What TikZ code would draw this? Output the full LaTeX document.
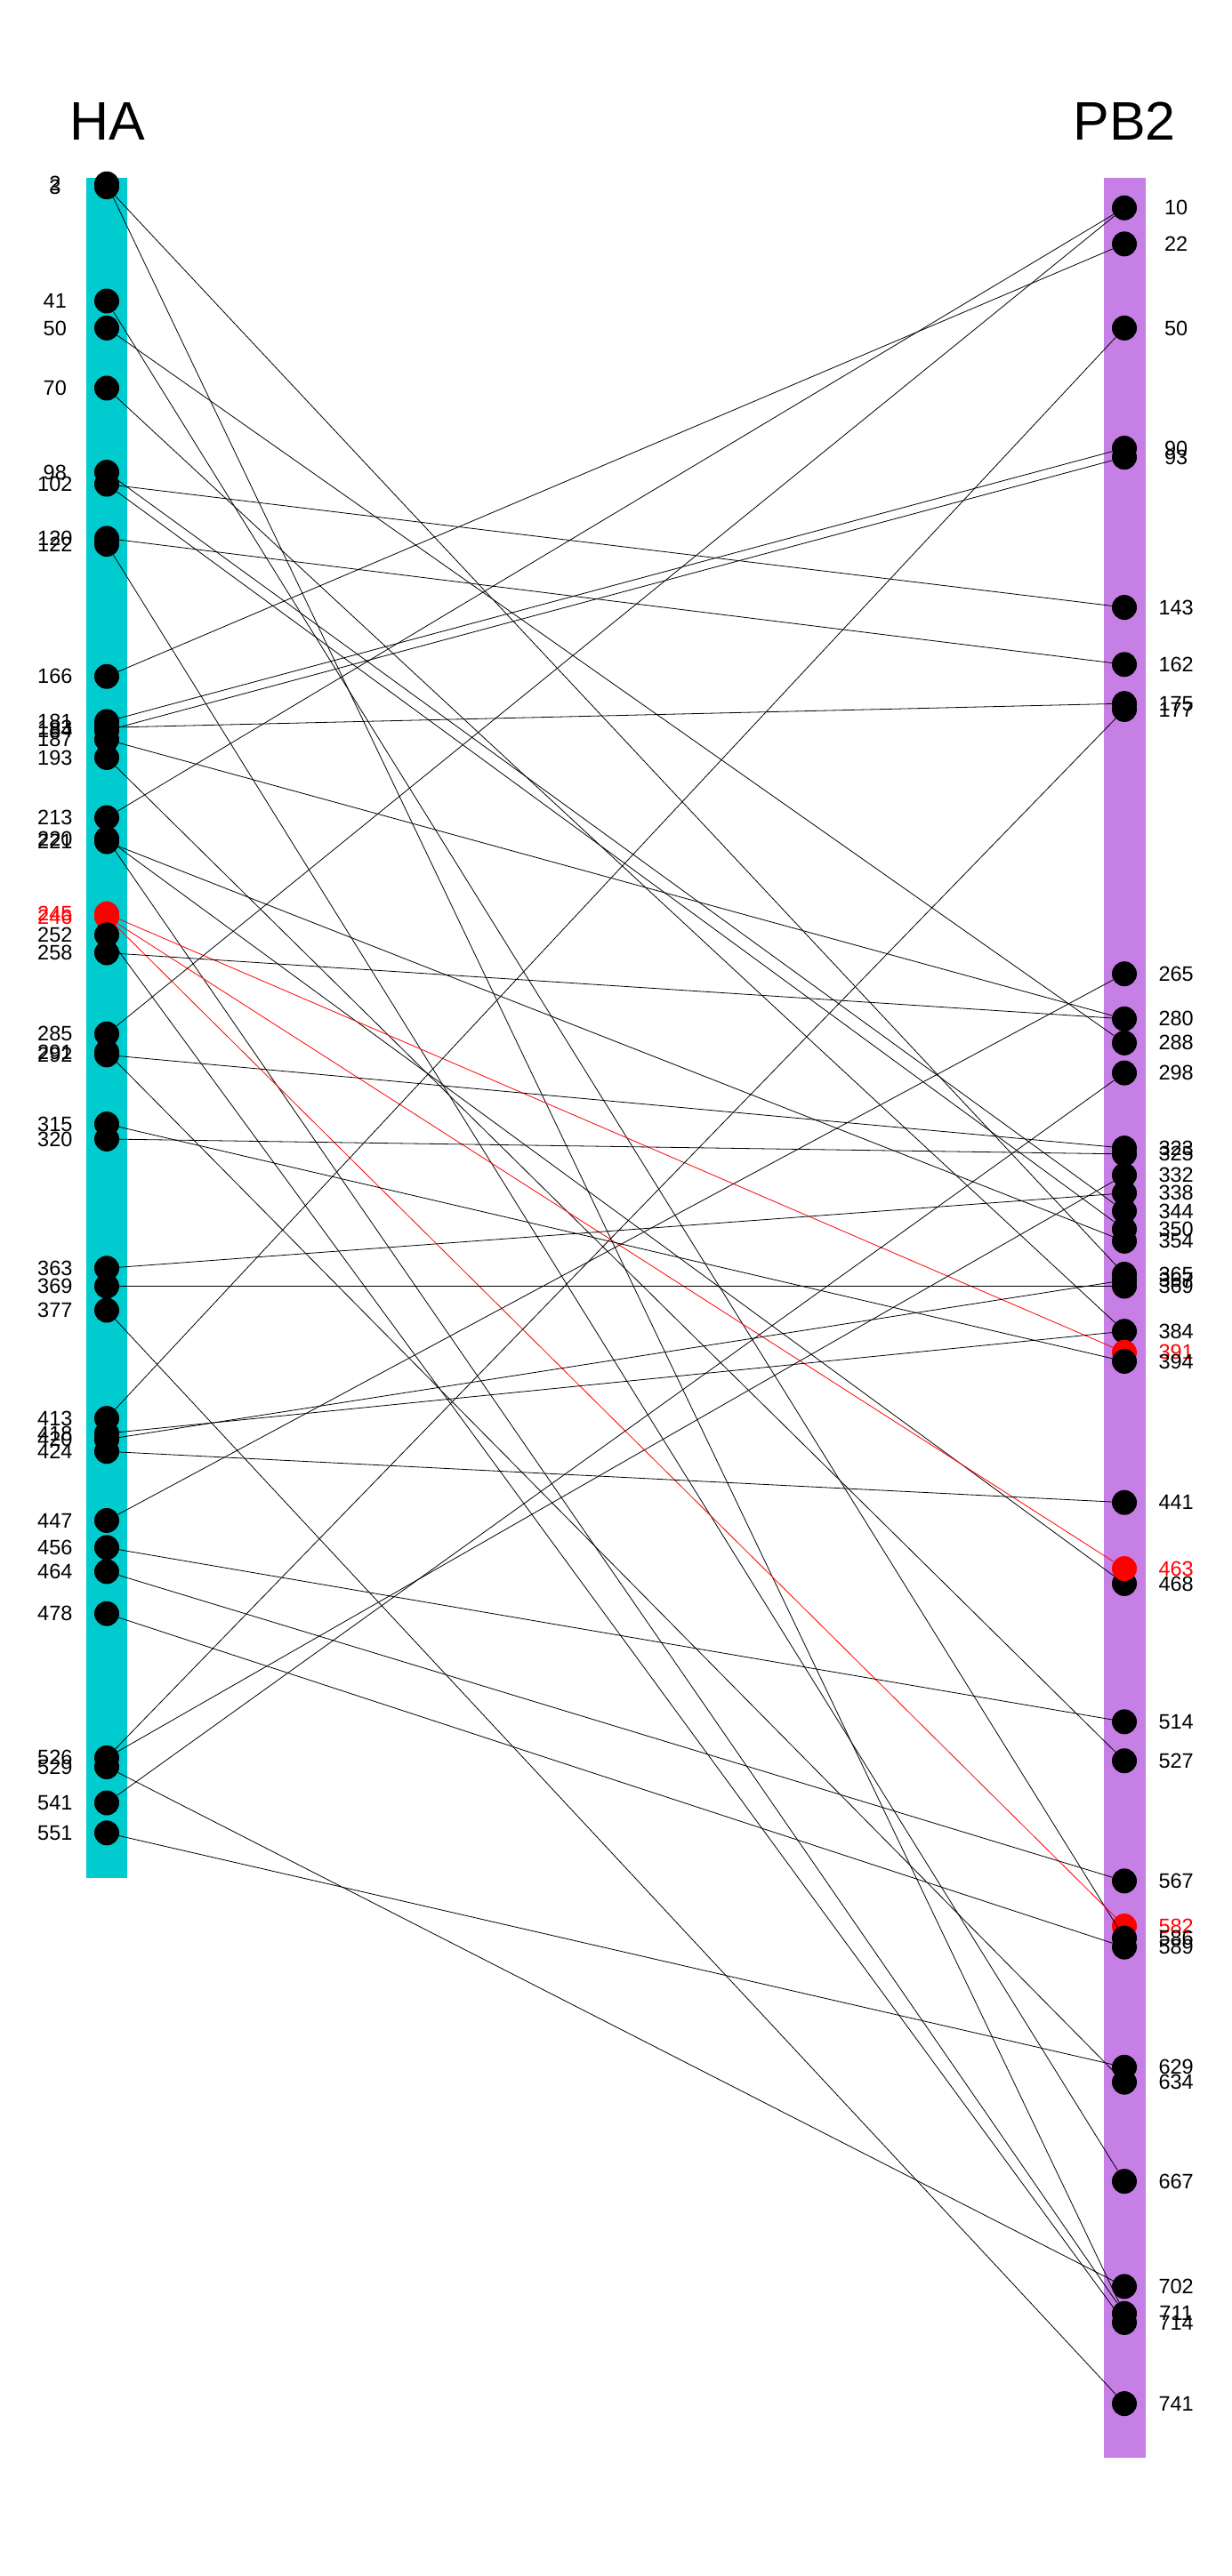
\documentclass[tikz,border=0pt]{standalone}
\usepackage{fontspec}
\setmainfont{Liberation Sans}
\usepackage{xcolor}
\definecolor{hacyan}{RGB}{0,204,208}
\definecolor{pbviolet}{RGB}{197,127,229}

\begin{document}
\begin{tikzpicture}[x=1pt,y=-3.378pt,label distance=44pt,
    dot/.style={circle,fill=black,minimum size=28pt,inner sep=0pt},
    hotdot/.style={dot,fill=red},
    num/.style={anchor=center,inner sep=0pt,font=\fontsize{23.5}{28}\selectfont},
    hotnum/.style={num,text=red},
    title/.style={anchor=base,font=\fontsize{61}{70}\selectfont},
    link/.style={line width=0.8pt},
    hotlink/.style={link,draw=red}]
            \useasboundingbox (0,-59.21) rectangle (1385,798.4);

            \node [title] (ha) at (121,-12.7) {HA};
            \node [title] (pb2) at (1264,-12.7) {PB2};
            \fill [hacyan] (97,0) rectangle (143,566);
            \fill [pbviolet] (1241,0) rectangle (1288,759);

            % HA sites
            \node [dot,label={[num]left:2}] (ha2) at (120,2) {};
            \node [dot,label={[num]left:3}] (ha3) at (120,3) {};
            \node [dot,label={[num]left:41}] (ha41) at (120,41) {};
            \node [dot,label={[num]left:50}] (ha50) at (120,50) {};
            \node [dot,label={[num]left:70}] (ha70) at (120,70) {};
            \node [dot,label={[num]left:98}] (ha98) at (120,98) {};
            \node [dot,label={[num]left:102}] (ha102) at (120,102) {};
            \node [dot,label={[num]left:120}] (ha120) at (120,120) {};
            \node [dot,label={[num]left:122}] (ha122) at (120,122) {};
            \node [dot,label={[num]left:166}] (ha166) at (120,166) {};
            \node [dot,label={[num]left:181}] (ha181) at (120,181) {};
            \node [dot,label={[num]left:183}] (ha183) at (120,183) {};
            \node [dot,label={[num]left:184}] (ha184) at (120,184) {};
            \node [dot,label={[num]left:187}] (ha187) at (120,187) {};
            \node [dot,label={[num]left:193}] (ha193) at (120,193) {};
            \node [dot,label={[num]left:213}] (ha213) at (120,213) {};
            \node [dot,label={[num]left:220}] (ha220) at (120,220) {};
            \node [dot,label={[num]left:221}] (ha221) at (120,221) {};
            \node [hotdot,label={[hotnum]left:245}] (ha245) at (120,245) {};
            \node [hotdot,label={[hotnum]left:246}] (ha246) at (120,246) {};
            \node [dot,label={[num]left:252}] (ha252) at (120,252) {};
            \node [dot,label={[num]left:258}] (ha258) at (120,258) {};
            \node [dot,label={[num]left:285}] (ha285) at (120,285) {};
            \node [dot,label={[num]left:291}] (ha291) at (120,291) {};
            \node [dot,label={[num]left:292}] (ha292) at (120,292) {};
            \node [dot,label={[num]left:315}] (ha315) at (120,315) {};
            \node [dot,label={[num]left:320}] (ha320) at (120,320) {};
            \node [dot,label={[num]left:363}] (ha363) at (120,363) {};
            \node [dot,label={[num]left:369}] (ha369) at (120,369) {};
            \node [dot,label={[num]left:377}] (ha377) at (120,377) {};
            \node [dot,label={[num]left:413}] (ha413) at (120,413) {};
            \node [dot,label={[num]left:418}] (ha418) at (120,418) {};
            \node [dot,label={[num]left:420}] (ha420) at (120,420) {};
            \node [dot,label={[num]left:424}] (ha424) at (120,424) {};
            \node [dot,label={[num]left:447}] (ha447) at (120,447) {};
            \node [dot,label={[num]left:456}] (ha456) at (120,456) {};
            \node [dot,label={[num]left:464}] (ha464) at (120,464) {};
            \node [dot,label={[num]left:478}] (ha478) at (120,478) {};
            \node [dot,label={[num]left:526}] (ha526) at (120,526) {};
            \node [dot,label={[num]left:529}] (ha529) at (120,529) {};
            \node [dot,label={[num]left:541}] (ha541) at (120,541) {};
            \node [dot,label={[num]left:551}] (ha551) at (120,551) {};

            % PB2 sites
            \node [dot,label={[num]right:10}] (pb10) at (1264,10) {};
            \node [dot,label={[num]right:22}] (pb22) at (1264,22) {};
            \node [dot,label={[num]right:50}] (pb50) at (1264,50) {};
            \node [dot,label={[num]right:90}] (pb90) at (1264,90) {};
            \node [dot,label={[num]right:93}] (pb93) at (1264,93) {};
            \node [dot,label={[num]right:143}] (pb143) at (1264,143) {};
            \node [dot,label={[num]right:162}] (pb162) at (1264,162) {};
            \node [dot,label={[num]right:175}] (pb175) at (1264,175) {};
            \node [dot,label={[num]right:177}] (pb177) at (1264,177) {};
            \node [dot,label={[num]right:265}] (pb265) at (1264,265) {};
            \node [dot,label={[num]right:280}] (pb280) at (1264,280) {};
            \node [dot,label={[num]right:288}] (pb288) at (1264,288) {};
            \node [dot,label={[num]right:298}] (pb298) at (1264,298) {};
            \node [dot,label={[num]right:323}] (pb323) at (1264,323) {};
            \node [dot,label={[num]right:325}] (pb325) at (1264,325) {};
            \node [dot,label={[num]right:332}] (pb332) at (1264,332) {};
            \node [dot,label={[num]right:338}] (pb338) at (1264,338) {};
            \node [dot,label={[num]right:344}] (pb344) at (1264,344) {};
            \node [dot,label={[num]right:350}] (pb350) at (1264,350) {};
            \node [dot,label={[num]right:354}] (pb354) at (1264,354) {};
            \node [dot,label={[num]right:365}] (pb365) at (1264,365) {};
            \node [dot,label={[num]right:367}] (pb367) at (1264,367) {};
            \node [dot,label={[num]right:369}] (pb369) at (1264,369) {};
            \node [dot,label={[num]right:384}] (pb384) at (1264,384) {};
            \node [hotdot,label={[hotnum]right:391}] (pb391) at (1264,391) {};
            \node [dot,label={[num]right:394}] (pb394) at (1264,394) {};
            \node [dot,label={[num]right:441}] (pb441) at (1264,441) {};
            \node [dot,label={[num]right:468}] (pb468) at (1264,468) {};
            \node [hotdot,label={[hotnum]right:463}] (pb463) at (1264,463) {};
            \node [dot,label={[num]right:514}] (pb514) at (1264,514) {};
            \node [dot,label={[num]right:527}] (pb527) at (1264,527) {};
            \node [dot,label={[num]right:567}] (pb567) at (1264,567) {};
            \node [hotdot,label={[hotnum]right:582}] (pb582) at (1264,582) {};
            \node [dot,label={[num]right:586}] (pb586) at (1264,586) {};
            \node [dot,label={[num]right:589}] (pb589) at (1264,589) {};
            \node [dot,label={[num]right:629}] (pb629) at (1264,629) {};
            \node [dot,label={[num]right:634}] (pb634) at (1264,634) {};
            \node [dot,label={[num]right:667}] (pb667) at (1264,667) {};
            \node [dot,label={[num]right:702}] (pb702) at (1264,702) {};
            \node [dot,label={[num]right:711}] (pb711) at (1264,711) {};
            \node [dot,label={[num]right:714}] (pb714) at (1264,714) {};
            \node [dot,label={[num]right:741}] (pb741) at (1264,741) {};

            % links
            \draw [link] (ha2) -- (pb711);
            \draw [link] (ha3) -- (pb365);
            \draw [link] (ha41) -- (pb586);
            \draw [link] (ha50) -- (pb288);
            \draw [link] (ha70) -- (pb384);
            \draw [link] (ha98) -- (pb344);
            \draw [link] (ha102) -- (pb143);
            \draw [link] (ha102) -- (pb350);
            \draw [link] (ha120) -- (pb162);
            \draw [link] (ha122) -- (pb667);
            \draw [link] (ha166) -- (pb22);
            \draw [link] (ha181) -- (pb90);
            \draw [link] (ha183) -- (pb175);
            \draw [link] (ha184) -- (pb93);
            \draw [link] (ha187) -- (pb280);
            \draw [link] (ha193) -- (pb527);
            \draw [link] (ha213) -- (pb10);
            \draw [link] (ha220) -- (pb468);
            \draw [link] (ha220) -- (pb711);
            \draw [link] (ha221) -- (pb354);
            \draw [hotlink] (ha245) -- (pb391);
            \draw [hotlink] (ha246) -- (pb463);
            \draw [hotlink] (ha246) -- (pb582);
            \draw [link] (ha252) -- (pb714);
            \draw [link] (ha258) -- (pb280);
            \draw [link] (ha285) -- (pb10);
            \draw [link] (ha291) -- (pb634);
            \draw [link] (ha292) -- (pb323);
            \draw [link] (ha315) -- (pb394);
            \draw [link] (ha320) -- (pb325);
            \draw [link] (ha363) -- (pb338);
            \draw [link] (ha369) -- (pb369);
            \draw [link] (ha377) -- (pb741);
            \draw [link] (ha413) -- (pb50);
            \draw [link] (ha418) -- (pb384);
            \draw [link] (ha420) -- (pb367);
            \draw [link] (ha424) -- (pb441);
            \draw [link] (ha447) -- (pb265);
            \draw [link] (ha456) -- (pb514);
            \draw [link] (ha464) -- (pb567);
            \draw [link] (ha478) -- (pb589);
            \draw [link] (ha526) -- (pb177);
            \draw [link] (ha526) -- (pb332);
            \draw [link] (ha529) -- (pb702);
            \draw [link] (ha541) -- (pb298);
            \draw [link] (ha551) -- (pb629);
        \end{tikzpicture}
\end{document}
